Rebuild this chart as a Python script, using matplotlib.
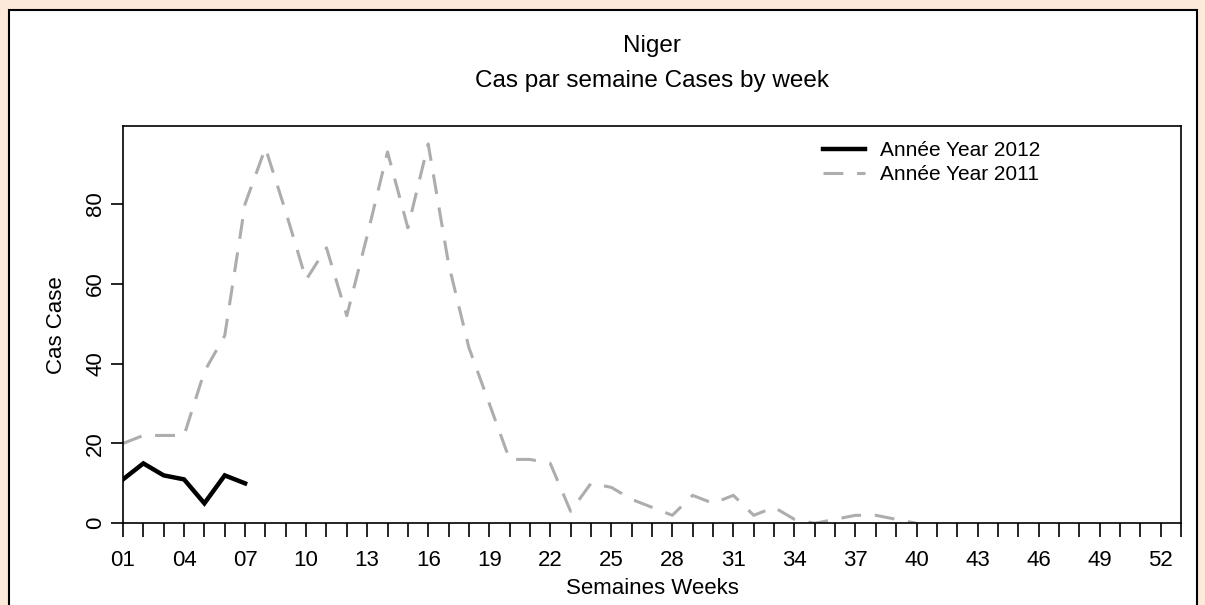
import matplotlib
matplotlib.use("Agg")
import matplotlib.pyplot as plt
from matplotlib.patches import Rectangle

plt.rcParams['font.family'] = ['Liberation Sans', 'DejaVu Sans']

# Data
weeks_2011 = list(range(1, 41))
cases_2011 = [20, 22, 22, 22, 38, 47, 80, 94, 78, 61,
              69, 52, 72, 93, 74, 95, 65, 44, 30, 16,
              16, 15, 3, 10, 9, 6, 4, 2, 7, 5,
              7, 2, 4, 1, 0, 1, 2, 2, 1, 0]
weeks_2012 = list(range(1, 8))
cases_2012 = [11, 15, 12, 11, 5, 12, 10]

all_weeks = list(range(1, 54))
label_weeks = list(range(1, 53, 3))
week_labels = ["%02d" % w for w in label_weeks]
y_ticks = [0, 20, 40, 60, 80]

W, H = 1205, 605
fig = plt.figure(figsize=(W / 100, H / 100), dpi=100)
fig.patch.set_facecolor('#FDE9D9')

# white panel with black frame, behind the plot
fig.patches.append(Rectangle((8.5 / W, -0.05), (1197 - 8.5) / W, (H - 9.5) / H + 0.05,
                             transform=fig.transFigure, facecolor='white',
                             edgecolor='black', linewidth=1.5, zorder=-10))

ax = fig.add_axes([123 / W, (H - 523.3) / H, (1181 - 123) / W, (523.3 - 126) / H])
ax.set_facecolor('white')

ax.plot(weeks_2012, cases_2012, color='black', linewidth=3.2, label='Année Year 2012',
        solid_joinstyle='miter', zorder=3)
ax.plot(weeks_2011, cases_2011, color='#ADADAD', linewidth=2.2, dashes=(6.5, 4.5),
        label='Année Year 2011', zorder=2)

ax.set_xlim(1, 53)
ax.set_ylim(0, 99.5)

ax.set_xticks(label_weeks)
ax.set_xticklabels(week_labels)
ax.set_xticks(all_weeks, minor=True)
ax.set_yticks(y_ticks)
ax.set_yticklabels([str(v) for v in y_ticks], rotation=90, va='center')

ax.tick_params(axis='x', which='both', direction='out', length=10, width=1.2,
               labelsize=16, pad=9.5, color='black')
ax.tick_params(axis='y', direction='out', length=9, width=1.2, labelsize=16, pad=3)

for s in ax.spines.values():
    s.set_linewidth(1.2)
    s.set_color('black')

ax.set_xlabel('Semaines Weeks', fontsize=16, va='center')
ax.xaxis.set_label_coords(0.5, (523.3 - 589) / 397.3)
ax.set_ylabel('Cas Case', fontsize=16, va='center')
ax.yaxis.set_label_coords((56 - 123) / 1058, 0.5)

fig.text(652 / W, 1 - 51.7 / H, 'Niger', ha='center', va='baseline', fontsize=17.5)
fig.text(652 / W, 1 - 86.7 / H, 'Cas par semaine Cases by week', ha='center',
         va='baseline', fontsize=17.5)

ax.legend(loc='upper left', bbox_to_anchor=((823 - 123) / 1058, (523.3 - 141) / 397.3),
          frameon=False, fontsize=15, handlelength=2.0, handletextpad=0.75,
          borderpad=0, borderaxespad=0, labelspacing=0.25)

fig.savefig('out.png', dpi=100, facecolor=fig.get_facecolor())
